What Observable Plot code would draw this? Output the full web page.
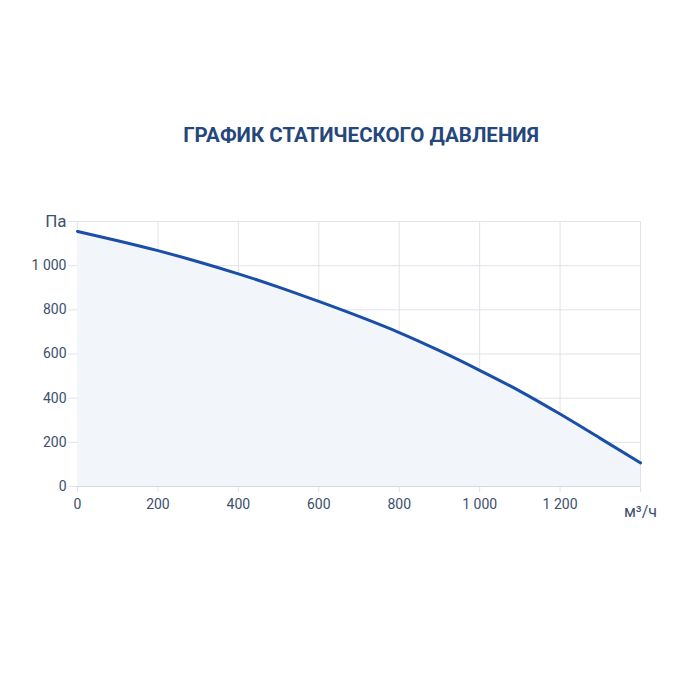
<!DOCTYPE html>
<html><head><meta charset="utf-8">
<script src="https://cdn.jsdelivr.net/npm/d3@7"></script>
<script src="https://cdn.jsdelivr.net/npm/@observablehq/plot@0.6"></script>
<style>
body{margin:0;background:#fff;font-family:Roboto,"Open Sans",sans-serif;}
#wrap{position:relative;width:700px;height:700px;}
#title{position:absolute;top:123px;left:0;width:722px;text-align:center;font-size:20.5px;font-weight:bold;color:#25477c;}
#chart{position:absolute;top:200px;left:0;}
</style></head><body>
<div id="wrap"><div id="title">ГРАФИК СТАТИЧЕСКОГО ДАВЛЕНИЯ</div><div id="chart"></div></div>
<script>
const flow = [0,100,200,300,400,500,600,700,800,900,1000,1100,1200,1300,1400];
const pressure = [1155,1113,1068,1018,963,903,838,770,697,615,526,432,328,218,107];
const xTicks = [0,200,400,600,800,1000,1200,1400];
const yTicks = [0,200,400,600,800,1000,1200];
const xUnit = "м³/ч";
const yUnit = "Па";

const data = flow.map((f,i)=>({f, p: pressure[i]}));
const fmt = d => d3.format(",")(d).replace(/,/g, " ");

const plot = Plot.plot({
  width: 700,
  height: 330,
  marginLeft: 77,
  marginRight: 60,
  marginTop: 21,
  marginBottom: 44,
  style: {fontFamily: "Roboto, sans-serif", fontSize: "14px", color: "#3d4f6e", background: "transparent"},
  x: {domain: [0,1400], ticks: xTicks, label: null},
  y: {domain: [0,1200], ticks: yTicks, label: null},
  marks: [
    Plot.gridX(xTicks, {stroke: "#dfe3ea", strokeOpacity: 1, y1: 0, y2: 1200}),
    Plot.gridY(yTicks, {stroke: "#dfe3ea", strokeOpacity: 1, x1: 0, x2: 1400}),
    Plot.areaY(data, {x: "f", y: "p", fill: "#f2f5fa", curve: "monotone-x"}),
    Plot.axisX(xTicks, {tickSize: 6, stroke: "#dfe3ea", tickPadding: 7, tickFormat: d => d === 1400 ? xUnit : fmt(d), fill: "#3d4f6e", fontSize: 14}),
    Plot.axisY(yTicks, {tickSize: 9, stroke: "#dfe3ea", tickPadding: 2, tickFormat: d => d === 1200 ? yUnit : fmt(d), fill: "#3d4f6e", fontSize: 14}),
    Plot.ruleY([0], {stroke: "#d4d8e0"}),
    Plot.lineY(data, {x: "f", y: "p", stroke: "#1a4fa8", strokeWidth: 3, curve: "monotone-x"})
  ]
});
document.getElementById("chart").appendChild(plot);
d3.select(plot).selectAll("text").each(function(){
  const t = d3.select(this);
  if (t.text() === yUnit) t.attr("font-size", 17).attr("dy", "0em");
  if (t.text() === xUnit) t.attr("font-size", 16).attr("dy", "0.4em");
});
</script>
</body></html>
